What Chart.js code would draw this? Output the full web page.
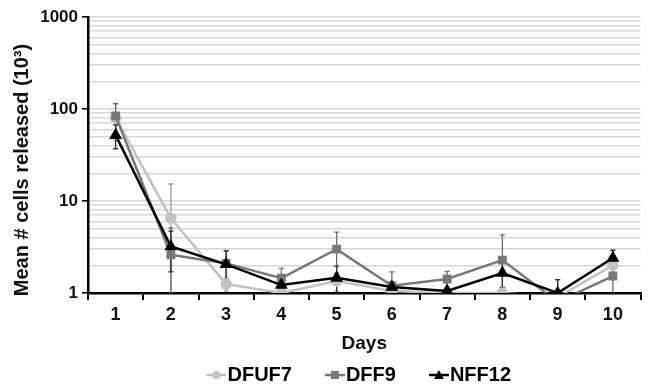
<!DOCTYPE html>
<html>
<head>
<meta charset="utf-8">
<script src="https://cdn.jsdelivr.net/npm/chart.js@4/dist/chart.umd.min.js"></script>
<style>
  html, body { margin: 0; padding: 0; background: #fff; }
  #wrap { width: 648px; height: 386px; }
</style>
</head>
<body>
<div id="wrap"><canvas id="cellsChart" width="648" height="386"></canvas></div>
<script>
// Data
const days = ['1', '2', '3', '4', '5', '6', '7', '8', '9', '10'];
const dfuf7 = [80, 6.5, 1.25, 1.0, 1.35, 1.05, 1.0, 1.0, 0.9, 2.0];
const dff9 = [84, 2.6, 2.1, 1.45, 3.0, 1.2, 1.42, 2.28, 0.8, 1.53];
const nff12 = [52, 3.2, 2.05, 1.22, 1.46, 1.16, 1.05, 1.65, 1.0, 2.4];
const dfuf7Err = [35, 8.8, 0.2, 0.1, 0.3, 0.1, 0.1, 0.1, 0.1, 0.5];
const dff9Err = [30, 2.5, 0.8, 0.4, 1.6, 0.5, 0.3, 2.0, 0.6, 1.4];
const nff12Err = [15, 1.5, 0.8, 0.2, 0.5, 0.1, 0.1, 0.5, 0.4, 0.5];
const yTicks = [1, 2, 3, 4, 5, 6, 7, 8, 9, 10, 20, 30, 40, 50, 60, 70, 80, 90, 100,
  200, 300, 400, 500, 600, 700, 800, 900, 1000];
const yLabels = [1, 10, 100, 1000];

const FONT = 'Arial, "Liberation Sans", sans-serif';

// line+marker picture for the legend (left part left blank on purpose)
function legendIcon(color, style) {
    const c = document.createElement('canvas');
    c.width = 52;
    c.height = 14;
    const g = c.getContext('2d');
    g.strokeStyle = color;
    g.fillStyle = color;
    g.lineWidth = 2.5;
    g.beginPath();
    g.moveTo(32, 7);
    g.lineTo(52, 7);
    g.stroke();
    g.beginPath();
    if (style === 'rect') {
        g.rect(38, 3, 8, 8);
    } else if (style === 'triangle') {
        g.moveTo(42, 2);
        g.lineTo(47, 11);
        g.lineTo(37, 11);
        g.closePath();
    } else {
        g.arc(42, 7, 4, 0, Math.PI * 2);
    }
    g.fill();
    return c;
}

// vertical error bars with caps
const errorBars = {
    id: 'errorBars',
    beforeDatasetsDraw(chart) {
        const { ctx, chartArea, scales } = chart;
        ctx.save();
        ctx.beginPath();
        ctx.rect(chartArea.left, chartArea.top - 2, chartArea.right - chartArea.left, chartArea.bottom - chartArea.top + 2);
        ctx.clip();
        chart.data.datasets.forEach(ds => {
            ds.data.forEach((v, i) => {
                const e = ds.errors[i];
                const x = scales.x.getPixelForValue(i);
                const yTop = scales.y.getPixelForValue(v + e);
                const lo = v - e;
                const yBot = lo > 0 ? scales.y.getPixelForValue(lo) : chartArea.bottom + 5;
                ctx.strokeStyle = ds.errColor;
                ctx.lineWidth = 1.3;
                ctx.beginPath();
                ctx.moveTo(x, yTop);
                ctx.lineTo(x, yBot);
                ctx.moveTo(x - 2.5, yTop);
                ctx.lineTo(x + 2.5, yTop);
                if (lo > 0) {
                    ctx.moveTo(x - 2.5, yBot);
                    ctx.lineTo(x + 2.5, yBot);
                }
                ctx.stroke();
            });
        });
        ctx.restore();
    }
};

// nudge the legend row a little to the left, like the original
const legendShift = {
    id: 'legendShift',
    afterLayout(chart) {
        chart.legend.left -= 34;
    }
};

function series(label, data, errors, color, errColor, style, order) {
    return {
        label: label,
        data: data,
        errors: errors,
        errColor: errColor,
        borderColor: color,
        backgroundColor: color,
        pointBackgroundColor: color,
        pointBorderColor: color,
        pointStyle: style,
        pointRadius: style === 'triangle' ? 5 : 4.5,
        borderWidth: 2.5,
        tension: 0,
        order: order,
        icon: legendIcon(color, style)
    };
}

new Chart(document.getElementById('cellsChart'), {
    type: 'line',
    data: {
        labels: days,
        datasets: [
            series('DFUF7', dfuf7, dfuf7Err, '#c2c2c2', '#9a9a9a', 'circle', 3),
            series('DFF9', dff9, dff9Err, '#787878', '#6a6a6a', 'rect', 2),
            series('NFF12', nff12, nff12Err, '#000000', '#333333', 'triangle', 1)
        ]
    },
    options: {
        responsive: false,
        animation: false,
        layout: {
            padding: { left: 4, right: 4, top: 17, bottom: -9 }
        },
        plugins: {
            tooltip: { enabled: false },
            legend: {
                position: 'bottom',
                fullSize: false,
                labels: {
                    usePointStyle: true,
                    pointStyleWidth: 34,
                    padding: 10,
                    color: '#111',
                    font: { family: FONT, size: 20, weight: 'bold' },
                    generateLabels(chart) {
                        return chart.data.datasets.map((ds, i) => ({
                            text: ds.label,
                            pointStyle: ds.icon,
                            fillStyle: ds.borderColor,
                            strokeStyle: ds.borderColor,
                            lineWidth: 0,
                            hidden: false,
                            datasetIndex: i
                        }));
                    }
                }
            }
        },
        scales: {
            x: {
                type: 'category',
                offset: true,
                afterFit(scale) { scale.height = 62; },
                grid: {
                    offset: true,
                    drawOnChartArea: false,
                    color: '#000',
                    lineWidth: 2,
                    tickLength: 7
                },
                border: { color: '#000', width: 2.5 },
                ticks: {
                    color: '#111',
                    padding: 4,
                    font: { family: FONT, size: 18, weight: 'bold' }
                },
                title: {
                    display: true,
                    text: 'Days',
                    color: '#111',
                    padding: { top: 4, bottom: 0 },
                    font: { family: FONT, size: 19, weight: 'bold' }
                }
            },
            y: {
                type: 'logarithmic',
                min: 1,
                max: 1000,
                afterFit(scale) { scale.width = 84; },
                afterBuildTicks(scale) {
                    scale.ticks = yTicks.map(v => ({ value: v }));
                },
                grid: {
                    color: '#d6d6d6',
                    lineWidth: 1.6,
                    tickLength: 6,
                    tickColor: ctx => yLabels.includes(ctx.tick.value) ? '#000' : 'rgba(0,0,0,0)'
                },
                border: { color: '#000', width: 2.5 },
                ticks: {
                    autoSkip: false,
                    color: '#111',
                    padding: 4,
                    font: { family: FONT, size: 17, weight: 'bold' },
                    callback: v => yLabels.includes(v) ? String(v) : ''
                },
                title: {
                    display: true,
                    text: 'Mean # cells released (10³)\u2003\u2002',
                    color: '#111',
                    padding: { top: 6, bottom: 0 },
                    font: { family: FONT, size: 20, weight: 'bold' }
                }
            }
        }
    },
    plugins: [errorBars, legendShift]
});
</script>
</body>
</html>
